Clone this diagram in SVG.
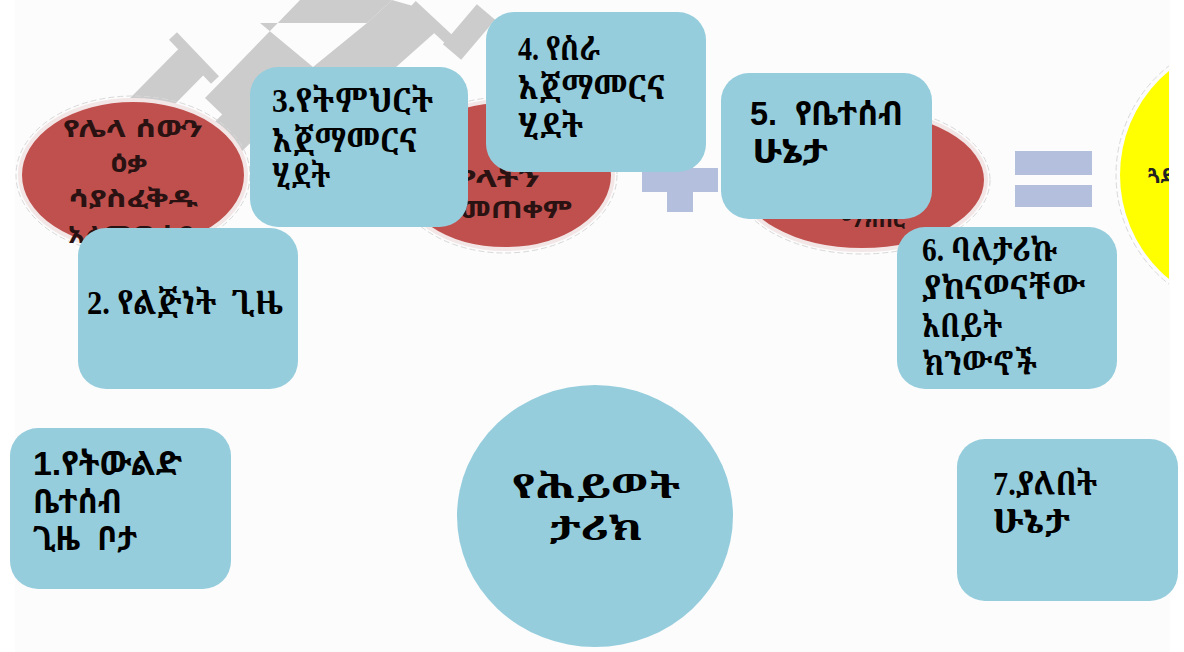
<svg xmlns="http://www.w3.org/2000/svg" width="1184" height="652" viewBox="0 0 1184 652">
<defs>
<style>
.box{fill:#95CDDD}
.t{font-family:"Liberation Serif","Noto Serif Ethiopic","Noto Sans Ethiopic","Abyssinica SIL","FreeSerif",serif;font-size:33px;font-weight:bold;fill:#000}
.ts{font-family:"Liberation Sans","Noto Sans Ethiopic","Noto Serif Ethiopic","Abyssinica SIL","FreeSans",sans-serif;font-size:33px;font-weight:bold;fill:#000}
.red{fill:#C0504D;stroke:#f3e6e6;stroke-width:4}
.redo{fill:none;stroke:#d8d8d8;stroke-width:1;stroke-dasharray:6 3}
.rt{font-family:"Noto Sans Ethiopic","Noto Serif Ethiopic","Abyssinica SIL","Liberation Sans",sans-serif;font-size:24px;font-weight:bold;fill:#2a1212;text-anchor:middle}
.op{fill:#B4BFDD}
.wm{stroke:#cccccc;fill:none;stroke-linecap:butt}
.wmf{fill:#cccccc;stroke:none}
</style>
<clipPath id="pageclip"><rect x="0" y="0" width="1169" height="652"/></clipPath>
</defs>
<rect x="0" y="0" width="1184" height="652" fill="#ffffff"/>
<rect x="15" y="0" width="1155" height="652" fill="#fcfcfc"/>

<g id="watermark" class="wm">
<line x1="55" y1="200" x2="195" y2="58" stroke-width="36"/>
<line x1="173" y1="36" x2="215" y2="80" stroke-width="11"/>
<line x1="120" y1="245" x2="262" y2="103" stroke-width="40"/>
<polygon class="wmf" points="205,98 300,0 392,0 367,23 260,23 313,67 270,112 228,120"/>
<polygon class="wmf" points="367,23 392,0 420,8 440,28 350,108 313,67"/>
<line x1="412" y1="5" x2="456" y2="46" stroke-width="11"/>
<line x1="452" y1="52" x2="486" y2="12" stroke-width="24"/>
</g>

<g id="background-ellipses">
<g id="ellipse1">
<ellipse class="red" cx="133" cy="175" rx="113" ry="75"/>
<ellipse class="redo" cx="133" cy="175" rx="117" ry="79"/>
<text class="rt" x="133" y="137" textLength="140" lengthAdjust="spacingAndGlyphs">የሌላ ሰውን</text>
<text class="rt" x="129" y="172" textLength="37" lengthAdjust="spacingAndGlyphs">ዕቃ</text>
<text class="rt" x="133" y="207" textLength="130" lengthAdjust="spacingAndGlyphs">ሳያስፈቅዱ</text>
<text class="rt" x="133" y="243" textLength="130" lengthAdjust="spacingAndGlyphs">አለመውሰድ</text>
</g>
<g id="ellipse2">
<ellipse class="red" cx="505" cy="175" rx="108" ry="74"/>
<ellipse class="redo" cx="505" cy="175" rx="112" ry="78"/>
<text class="rt" x="456" y="187" style="text-anchor:start" textLength="84" lengthAdjust="spacingAndGlyphs">ዖላትን</text>
<text class="rt" x="460" y="218" style="text-anchor:start" textLength="112" lengthAdjust="spacingAndGlyphs">መጠቀም</text>
</g>
<g id="ellipse3">
<ellipse class="red" cx="862" cy="180" rx="124" ry="70"/>
<ellipse class="redo" cx="862" cy="180" rx="128" ry="74"/>
<text class="rt" x="873" y="227" textLength="64" lengthAdjust="spacingAndGlyphs">ማክበር</text>
</g>
<g id="plus">
<rect class="op" x="642" y="168" width="76" height="24"/>
<rect class="op" x="667" y="148" width="26" height="64"/>
</g>
<g id="equals">
<rect class="op" x="1015" y="151" width="77" height="24"/>
<rect class="op" x="1015" y="185" width="77" height="22"/>
</g>
<g id="yellow" clip-path="url(#pageclip)">
<ellipse cx="1255" cy="175" rx="135" ry="135" fill="#FFFF00"/>
<ellipse cx="1255" cy="175" rx="139" ry="139" fill="none" stroke="#d8d8d8" stroke-width="1" stroke-dasharray="6 3"/>
<text x="1148" y="183" font-family="Noto Sans Ethiopic,Abyssinica SIL,sans-serif" font-size="21" font-weight="bold" fill="#222">ጓደ</text>
</g>
</g>

<g id="connectors"></g>

<g id="node1">
<rect class="box" x="10" y="428" width="221" height="161" rx="28"/>
<text class="ts" x="33" y="475" textLength="149" lengthAdjust="spacingAndGlyphs">1.የትውልድ</text>
<text class="ts" x="33" y="513" textLength="89" lengthAdjust="spacingAndGlyphs">ቤተሰብ</text>
<text class="ts" x="33" y="550" textLength="104" lengthAdjust="spacingAndGlyphs" xml:space="preserve">ጊዜ  ቦታ</text>
</g>
<g id="node2">
<rect class="box" x="78" y="228" width="220" height="161" rx="28"/>
<text class="t" x="87" y="314" textLength="196" lengthAdjust="spacingAndGlyphs" xml:space="preserve">2. የልጅነት  ጊዜ</text>
</g>
<g id="node3">
<rect class="box" x="250" y="67" width="218" height="160" rx="28"/>
<text class="t" x="272" y="112" textLength="161" lengthAdjust="spacingAndGlyphs">3.የትምህርት</text>
<text class="t" x="272" y="152" textLength="145" lengthAdjust="spacingAndGlyphs">አጀማመርና</text>
<text class="t" x="272" y="187" textLength="58" lengthAdjust="spacingAndGlyphs">ሂደት</text>
</g>
<g id="node4">
<rect class="box" x="486" y="12" width="220" height="160" rx="28"/>
<text class="t" x="518" y="60" textLength="82" lengthAdjust="spacingAndGlyphs">4. የስራ</text>
<text class="t" x="518" y="99" textLength="147" lengthAdjust="spacingAndGlyphs">አጀማመርና</text>
<text class="t" x="518" y="137" textLength="65" lengthAdjust="spacingAndGlyphs">ሂደት</text>
</g>
<g id="node5">
<rect class="box" x="721" y="73" width="211" height="146" rx="28"/>
<text class="ts" x="750" y="125" textLength="153" lengthAdjust="spacingAndGlyphs" xml:space="preserve">5.  የቤተሰብ</text>
<text class="ts" x="752" y="163" textLength="76" lengthAdjust="spacingAndGlyphs">ሁኔታ</text>
</g>
<g id="node6">
<rect class="box" x="897" y="227" width="220" height="162" rx="28"/>
<text class="t" x="922" y="261" textLength="135" lengthAdjust="spacingAndGlyphs">6. ባለታሪኩ</text>
<text class="t" x="922" y="299" textLength="163" lengthAdjust="spacingAndGlyphs">ያከናወናቸው</text>
<text class="t" x="922" y="337" textLength="80" lengthAdjust="spacingAndGlyphs">አበይት</text>
<text class="t" x="922" y="375" textLength="115" lengthAdjust="spacingAndGlyphs">ክንውኖች</text>
</g>
<g id="node7">
<rect class="box" x="957" y="439" width="221" height="162" rx="28"/>
<text class="t" x="993" y="495" textLength="104" lengthAdjust="spacingAndGlyphs">7.ያለበት</text>
<text class="t" x="993" y="533" textLength="77" lengthAdjust="spacingAndGlyphs">ሁኔታ</text>
</g>
<g id="center">
<ellipse class="box" cx="595" cy="516" rx="138" ry="131"/>
<text class="t" x="596" y="498" text-anchor="middle" font-size="50" textLength="168" lengthAdjust="spacingAndGlyphs">የሕይወት</text>
<text class="t" x="596" y="540" text-anchor="middle" font-size="50" textLength="93" lengthAdjust="spacingAndGlyphs">ታሪክ</text>
</g>
</svg>
